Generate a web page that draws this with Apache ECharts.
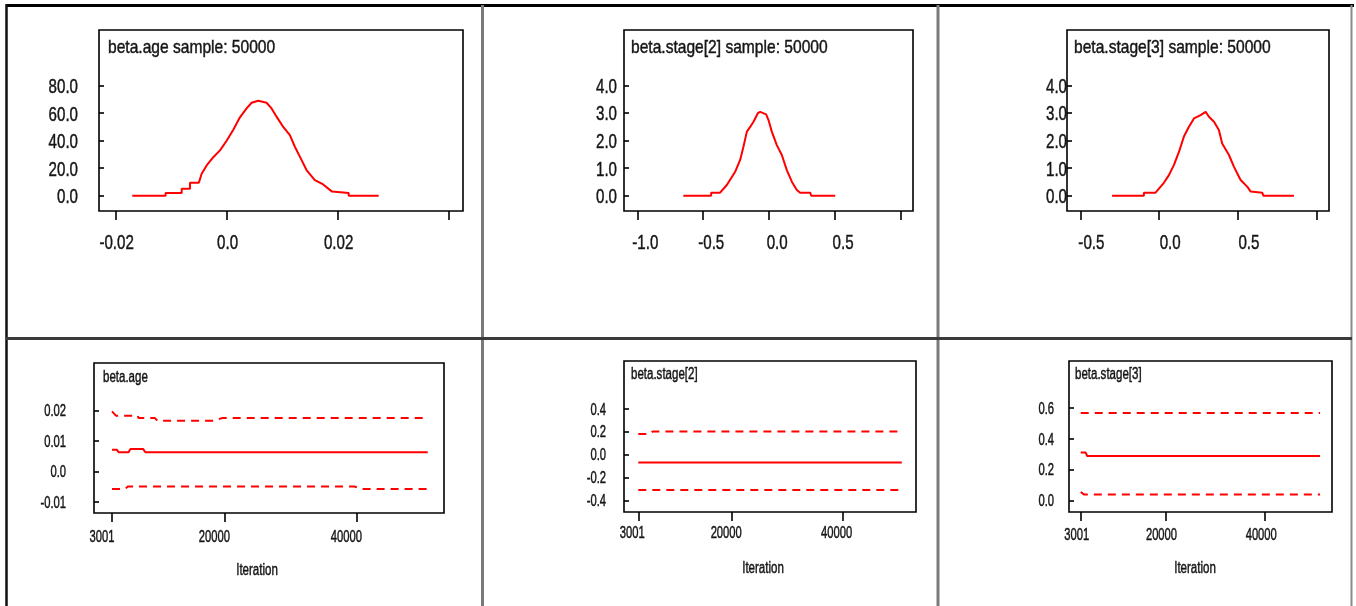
<!DOCTYPE html>
<html><head><meta charset="utf-8">
<script src="https://cdn.jsdelivr.net/npm/echarts@6/dist/echarts.min.js"></script>
<style>html,body{margin:0;padding:0;background:#fff}#c{width:1356px;height:606px}</style>
</head><body><div id="c"></div>
<script>
// ---------- DATA ----------
// Top row: posterior densities
const ageDensX = [-0.017,-0.011,-0.011,-0.0081,-0.0081,-0.0066,-0.0066,-0.005,-0.0045,-0.0036,-0.0024,-0.0012,0,0.0012,0.0024,0.0036,0.0045,0.0057,0.0072,0.0081,0.009,0.0102,0.0114,0.0123,0.0132,0.0144,0.0159,0.0174,0.019,0.0193,0.022,0.022,0.0274];
const ageDensY = [0,0,2,2,5,5,9.5,9.5,16,22,28,33,40,48,57,63.5,67.6,69,67.6,63.5,57.5,50,44,35.6,28.4,18.7,11.4,8.2,3,2,2,0,0];

const stage2DensX = [-0.651,-0.44,-0.44,-0.372,-0.321,-0.258,-0.22,-0.195,-0.169,-0.144,-0.119,-0.086,-0.068,-0.023,-0.005,0.02,0.058,0.096,0.134,0.172,0.21,0.235,0.311,0.319,0.501];
const stage2DensY = [0,0,0.11,0.11,0.39,0.87,1.3,1.78,2.33,2.5,2.69,3.0,3.05,2.96,2.75,2.33,1.84,1.48,0.93,0.51,0.21,0.11,0.11,0,0];

const stage3DensX = [-0.299,-0.097,-0.097,-0.023,0,0.03,0.062,0.094,0.126,0.157,0.189,0.221,0.263,0.295,0.316,0.348,0.379,0.4,0.443,0.475,0.517,0.559,0.581,0.655,0.661,0.856];
const stage3DensY = [0,0,0.11,0.11,0.27,0.47,0.75,1.12,1.6,2.15,2.51,2.81,2.93,3.05,2.87,2.69,2.39,1.9,1.48,1.05,0.57,0.33,0.15,0.11,0,0];

// Bottom row: running quantiles (2.5%, median, 97.5%) vs iteration
const ageUpIter  = [3001,3600,6900,7000,9500,9900,18300,19700,50800];
const ageUp      = [0.0197,0.0183,0.0183,0.0175,0.0175,0.0166,0.0166,0.0175,0.0175];
const ageMedIter = [3001,3750,4000,5500,5800,7700,8050,50800];
const ageMed     = [0.0071,0.0071,0.0063,0.0063,0.0074,0.0074,0.0063,0.0063];
const ageLoIter  = [3001,5000,5400,39700,40700,50800];
const ageLo      = [-0.0057,-0.0057,-0.0049,-0.0049,-0.0057,-0.0057];

const st2UpIter  = [3001,5100,5600,50700];
const st2Up      = [0.179,0.179,0.2,0.2];
const st2MedIter = [3001,50700];
const st2Med     = [-0.07,-0.07];
const st2LoIter  = [3001,50700];
const st2Lo      = [-0.31,-0.31];

const st3UpIter  = [3001,51000];
const st3Up      = [0.567,0.567];
const st3MedIter = [3001,4000,4300,51000];
const st3Med     = [0.31,0.31,0.288,0.288];
const st3LoIter  = [3001,3400,3700,51000];
const st3Lo      = [0.054,0.054,0.037,0.037];

// Tick values & labels
const ageDensXTicks = [-0.02,0,0.02,0.04];   const ageDensXLabels = ['-0.02','0.0','0.02',''];
const ageDensYTicks = [0,20,40,60,80];       const ageDensYLabels = ['0.0','20.0','40.0','60.0','80.0'];
const st2DensXTicks = [-1,-0.5,0,0.5,1];     const st2DensXLabels = ['-1.0','-0.5','0.0','0.5',''];
const st3DensXTicks = [-0.5,0,0.5,1];        const st3DensXLabels = ['-0.5','0.0','0.5',''];
const stDensYTicks  = [0,1,2,3,4];           const stDensYLabels  = ['0.0','1.0','2.0','3.0','4.0'];
const iterTicks     = [3001,20000,40000];    const iterLabels     = ['3001','20000','40000'];
const ageHistYTicks = [-0.01,0,0.01,0.02];   const ageHistYLabels = ['-0.01','0.0','0.01','0.02'];
const st2HistYTicks = [-0.4,-0.2,0,0.2,0.4]; const st2HistYLabels = ['-0.4','-0.2','0.0','0.2','0.4'];
const st3HistYTicks = [0,0.2,0.4,0.6];       const st3HistYLabels = ['0.0','0.2','0.4','0.6'];

const titles = ['beta.age sample: 50000','beta.stage[2] sample: 50000','beta.stage[3] sample: 50000','beta.age','beta.stage[2]','beta.stage[3]'];
const xAxisName = 'Iteration';

// ---------- BUILD ----------
const FONT = "'Liberation Sans',Arial,sans-serif";
const TXT = '#151515';
const RED = '#ff0000';
const zip = (a,b) => a.map((v,i)=>[v,b[i]]);

const panels = [
  {g:{left:99,top:30,width:364,height:181}, x:[-0.023,0.0426], y:[-11.1,120.5], xt:ageDensXTicks, xl:ageDensXLabels, yt:ageDensYTicks, yl:ageDensYLabels, big:true, tp:[108,48], xly:243, xdx:1, yrx:78},
  {g:{left:624,top:30,width:289,height:181}, x:[-1.101,1.091], y:[-0.556,6.025], xt:st2DensXTicks, xl:st2DensXLabels, yt:stDensYTicks, yl:stDensYLabels, big:true, tp:[631,48], xly:243, xdx:8, yrx:617},
  {g:{left:1067,top:30,width:262,height:181}, x:[-0.585,1.078], y:[-0.556,6.025], xt:st3DensXTicks, xl:st3DensXLabels, yt:stDensYTicks, yl:stDensYLabels, big:true, tp:[1074,48], xly:243, xdx:11, yrx:1067},
  {g:{left:94,top:363,width:350,height:150}, x:[276,53261], y:[-0.01359,0.03554], xt:iterTicks, xl:iterLabels, yt:ageHistYTicks, yl:ageHistYLabels, big:false, tp:[103,378], xly:538, xdx:-10, yrx:66, nm:[257,571]},
  {g:{left:624,top:361,width:292,height:151}, x:[412,53270], y:[-0.502,0.8155], xt:iterTicks, xl:iterLabels, yt:st2HistYTicks, yl:st2HistYLabels, big:false, tp:[631,375], xly:534, xdx:-6, yrx:606, nm:[763,569]},
  {g:{left:1069,top:361,width:263,height:151}, x:[652,53391], y:[-0.0761,0.9057], xt:iterTicks, xl:iterLabels, yt:st3HistYTicks, yl:st3HistYLabels, big:false, tp:[1075,375], xly:536, xdx:-4, yrx:1054, nm:[1195,569]}
];

const grid = [], xAxis = [], yAxis = [];
panels.forEach((p, i) => {
  grid.push(Object.assign({show:true, borderColor:'#000', borderWidth:1.6, backgroundColor:'transparent'}, p.g));
  xAxis.push({
    type:'value', gridIndex:i, min:p.x[0], max:p.x[1], scale:true,
    axisLine:{show:false, onZero:false}, splitLine:{show:false},
    axisTick:{show:true, inside:false, length:9, customValues:p.xt, lineStyle:{color:'#000', width:1.6}},
    axisLabel:{show:false}
  });
  yAxis.push({
    type:'value', gridIndex:i, min:p.y[0], max:p.y[1], scale:true,
    axisLine:{show:false, onZero:false}, splitLine:{show:false},
    axisTick:{show:true, inside:true, length:5, customValues:p.yt, lineStyle:{color:'#000', width:1.6}},
    axisLabel:{show:false}
  });
});

const solid = (i, d) => ({type:'line', xAxisIndex:i, yAxisIndex:i, data:d, symbol:'none', silent:true,
  lineStyle:{color:RED, width:2}});
const dashed = (i, d) => ({type:'line', xAxisIndex:i, yAxisIndex:i, data:d, symbol:'none', silent:true,
  lineStyle:{color:RED, width:2, type:[8,6]}});

const series = [
  solid(0, zip(ageDensX, ageDensY)),
  solid(1, zip(stage2DensX, stage2DensY)),
  solid(2, zip(stage3DensX, stage3DensY)),
  dashed(3, zip(ageUpIter, ageUp)), solid(3, zip(ageMedIter, ageMed)), dashed(3, zip(ageLoIter, ageLo)),
  dashed(4, zip(st2UpIter, st2Up)), solid(4, zip(st2MedIter, st2Med)), dashed(4, zip(st2LoIter, st2Lo)),
  dashed(5, zip(st3UpIter, st3Up)), solid(5, zip(st3MedIter, st3Med)), dashed(5, zip(st3LoIter, st3Lo))
];

const chart = echarts.init(document.getElementById('c'), null, {renderer:'canvas'});
chart.setOption({animation:false, backgroundColor:'#fff', grid, xAxis, yAxis, series});

// table frame lines (decoration)
const L = (x1,y1,x2,y2,c,w) => ({type:'line', shape:{x1,y1,x2,y2}, style:{stroke:c, lineWidth:w}, silent:true});
// narrow text (Arial-Narrow look): horizontally scaled real text
const T = (x, y, text, size, align, sx) => ({type:'text', x, y, scaleX:sx, scaleY:1, originX:0, originY:0, silent:true,
  style:{text, fontFamily:FONT, fontSize:size, fill:TXT, stroke:TXT, lineWidth:0.45, textAlign:align, textVerticalAlign:'middle', verticalAlign:'middle'}});

const graphic = [
  L(6,5.5,1354,5.5,'#000',3),
  L(6.5,4,6.5,606,'#111',2.5),
  L(482.5,5,482.5,606,'#7a7a7a',3),
  L(938,5,938,606,'#7a7a7a',3),
  L(1351.5,5,1351.5,606,'#8a8a8a',2),
  L(6,338.5,1352,338.5,'#3a3a3a',3)
];

panels.forEach((p, i) => {
  const ls = p.big ? 21 : 16, lsx = p.big ? 0.72 : 0.7;
  p.xt.forEach((v, k) => {
    if (!p.xl[k]) return;
    const px = chart.convertToPixel({xAxisIndex:i}, v);
    graphic.push(T(px + p.xdx, p.xly, p.xl[k], ls, 'center', lsx));
  });
  p.yt.forEach((v, k) => {
    const py = chart.convertToPixel({yAxisIndex:i}, v);
    graphic.push(T(p.yrx, py + 1.5, p.yl[k], ls, 'right', lsx));
  });
  graphic.push(T(p.tp[0], p.tp[1], titles[i], p.big ? 19 : 16, 'left', p.big ? 0.82 : 0.72));
  if (p.nm) graphic.push(T(p.nm[0], p.nm[1], xAxisName, 16, 'center', 0.72));
});

chart.setOption({graphic});
</script></body></html>
